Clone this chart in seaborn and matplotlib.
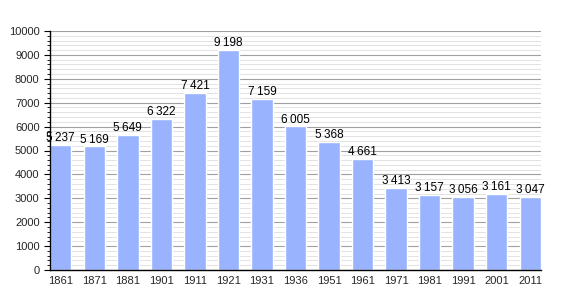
import matplotlib
matplotlib.use("Agg")
import matplotlib.pyplot as plt
import seaborn as sns
import pandas as pd
from matplotlib.ticker import MultipleLocator

years = ["1861", "1871", "1881", "1901", "1911", "1921", "1931", "1936",
         "1951", "1961", "1971", "1981", "1991", "2001", "2011"]
population = [5237, 5169, 5649, 6322, 7421, 9198, 7159, 6005,
              5368, 4661, 3413, 3157, 3056, 3161, 3047]

df = pd.DataFrame({"year": years, "pop": population})

sns.set_style("white")
plt.rcParams["font.family"] = ["Liberation Sans", "DejaVu Sans"]

fig = plt.figure(figsize=(5.7, 3.0), dpi=100)
ax = fig.add_axes([50/570, 30/300, 491/570, 239/300])

w = 0.64
sns.barplot(data=df, x="year", y="pop", color="#99b3ff", saturation=1,
            width=w, ax=ax, zorder=3)

ax.set_xlim(-w/2, len(years) - 1 + w/2)
ax.set_ylim(0, 10000)
ax.yaxis.set_major_locator(MultipleLocator(1000))
ax.yaxis.set_minor_locator(MultipleLocator(200))
ax.grid(which="major", axis="y", color="#a0a0a0", linewidth=0.8, zorder=0)
ax.grid(which="minor", axis="y", color="#dddddd", linewidth=0.6, zorder=0)
ax.set_axisbelow(True)

for s in ["top", "right"]:
    ax.spines[s].set_visible(False)
for s in ["left", "bottom"]:
    ax.spines[s].set_color("black")
    ax.spines[s].set_linewidth(1.0)
    ax.spines[s].set_zorder(5)

ax.tick_params(axis="y", which="major", length=4, width=0.8, color="black",
               labelsize=8, left=True, direction="out")
ax.tick_params(axis="y", which="minor", length=2, width=0.6, color="black",
               left=True)
ax.tick_params(axis="x", length=0, labelsize=8, pad=4)
ax.set_xlabel("")
ax.set_ylabel("")

for i, v in enumerate(population):
    s = f"{v:,}".replace(",", "\u2009")
    ax.text(i, v + 40, s, ha="center", va="bottom", fontsize=8.5,
            color="black", zorder=6)

fig.savefig("out.png", dpi=100)
